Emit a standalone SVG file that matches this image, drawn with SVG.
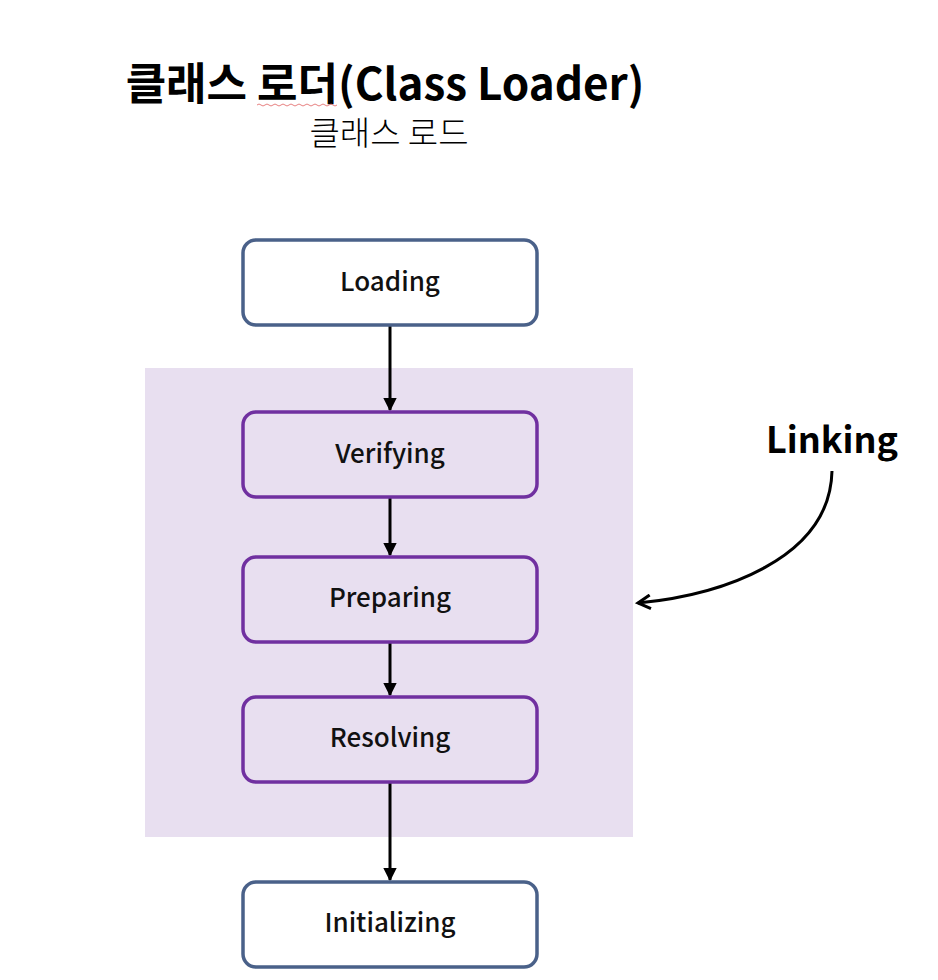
<svg xmlns="http://www.w3.org/2000/svg" width="938" height="980" viewBox="0 0 938 980">
<defs>
<style>
.t{font-family:"Noto Sans CJK KR","Noto Sans",sans-serif;fill:#000}
.lbl{font-size:26px;font-weight:500;text-anchor:middle;fill:#111}
.box{fill:#fff;stroke:#4a6189;stroke-width:3.5}
.pbox{fill:none;stroke:#7030a0;stroke-width:3.5}
.con{stroke:#000;stroke-width:3;fill:none}
</style>
<marker id="ah" viewBox="0 0 10 10" refX="9" refY="5" markerWidth="4.5" markerHeight="4.5" orient="auto" markerUnits="strokeWidth">
<path d="M0,0 L10,5 L0,10 Z" fill="#000"/>
</marker>
<marker id="ah2" viewBox="0 0 12 12" refX="10" refY="6" markerWidth="5.5" markerHeight="5.5" orient="auto" markerUnits="strokeWidth">
<path d="M1,1 L10,6 L1,11" fill="none" stroke="#000" stroke-width="2.2"/>
</marker>
</defs>
<rect width="938" height="980" fill="#fff"/>
<g id="title">
<text class="t" x="385" y="100" font-size="44" font-weight="700" text-anchor="middle">클래스 로더(Class Loader)</text>
<path d="M257,105 q2,-2 4,0 t4,0 t4,0 t4,0 t4,0 t4,0 t4,0 t4,0 t4,0 t4,0 t4,0 t4,0 t4,0 t4,0 t4,0 t4,0 t4,0 t4,0 t4,0 t4,0" fill="none" stroke="#e06060" stroke-width="0.8"/>
<text class="t" x="389" y="145" font-size="33" font-weight="300" text-anchor="middle" fill="#333">클래스 로드</text>
</g>
<g id="linking-area">
<rect x="145" y="368" width="488" height="469" fill="#e8dff0"/>
</g>
<g id="connectors">
<line class="con" x1="390" y1="325" x2="390" y2="410" marker-end="url(#ah)"/>
<line class="con" x1="390" y1="497" x2="390" y2="555" marker-end="url(#ah)"/>
<line class="con" x1="390" y1="642" x2="390" y2="695" marker-end="url(#ah)"/>
<line class="con" x1="390" y1="782" x2="390" y2="880" marker-end="url(#ah)"/>
<path class="con" stroke-width="3.5" d="M832,471 C830,560 720,595 638,603" marker-end="url(#ah2)"/>
</g>
<g id="loading">
<rect class="box" x="243" y="240" width="294" height="85" rx="13"/>
<text class="t lbl" x="390" y="291">Loading</text>
</g>
<g id="verifying">
<rect class="pbox" x="243" y="412" width="294" height="85" rx="13"/>
<text class="t lbl" x="390" y="463">Verifying</text>
</g>
<g id="preparing">
<rect class="pbox" x="243" y="557" width="294" height="85" rx="13"/>
<text class="t lbl" x="390" y="607">Preparing</text>
</g>
<g id="resolving">
<rect class="pbox" x="243" y="697" width="294" height="85" rx="13"/>
<text class="t lbl" x="390" y="747">Resolving</text>
</g>
<g id="initializing">
<rect class="box" x="243" y="882" width="294" height="85" rx="13"/>
<text class="t lbl" x="390" y="932">Initializing</text>
</g>
<g id="linking-label">
<text class="t" x="832" y="453" font-size="36" font-weight="700" text-anchor="middle">Linking</text>
</g>
</svg>
